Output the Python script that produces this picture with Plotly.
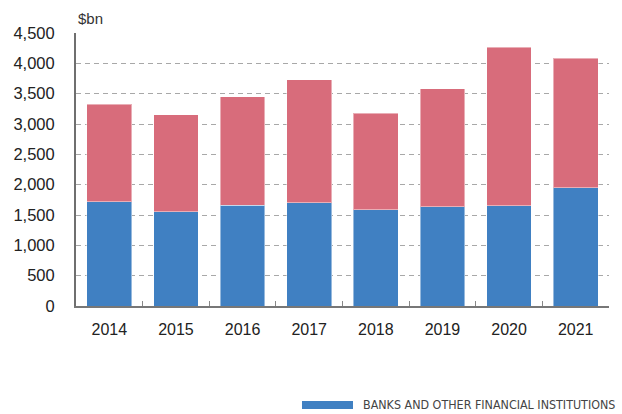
import plotly.graph_objects as go

# ---------------- Data ---------------- #
years = ["2014", "2015", "2016", "2017", "2018", "2019", "2020", "2021"]
totals = [3322, 3153, 3449, 3728, 3180, 3580, 4265, 4084]
banks = [1722, 1551, 1660, 1705, 1590, 1633, 1650, 1952]
others = [t - b for t, b in zip(totals, banks)]

y_ticks = [0, 500, 1000, 1500, 2000, 2500, 3000, 3500, 4000, 4500]

BLUE = "#4080c2"
RED = "#d86c7b"

# ---------------- Figure ---------------- #
fig = go.Figure()
fig.add_trace(go.Bar(
    x=years, y=banks, name="BANKS AND OTHER FINANCIAL INSTITUTIONS",
    marker=dict(color=BLUE, line=dict(color="rgba(255,255,255,0.45)", width=1)),
    width=0.67, showlegend=False,
))
fig.add_trace(go.Bar(
    x=years, y=others, name="OTHER",
    marker=dict(color=RED, line=dict(color="rgba(255,255,255,0.45)", width=1)),
    width=0.67, showlegend=False,
))

font = "Liberation Sans, Arial, sans-serif"

fig.update_layout(
    width=622, height=414,
    barmode="stack",
    margin=dict(l=76, r=13, t=33, b=108, autoexpand=False),
    plot_bgcolor="white", paper_bgcolor="white",
    font=dict(family=font, size=16, color="#222"),
    xaxis=dict(
        range=[-0.5, 7.5],
        showline=True, linecolor="#777", linewidth=2,
        ticks="inside", tickson="boundaries", ticklen=5, tickcolor="#888", tickwidth=1,
        showgrid=False, ticklabelstandoff=8,
    ),
    yaxis=dict(
        range=[0, 4500], tickvals=y_ticks, tickformat=",",
        showline=True, linecolor="#6f6f6f", linewidth=2,
        showgrid=True, gridcolor="#a8a8a8", griddash="5px,4px", gridwidth=1.2,
        zeroline=False, ticks="", ticklabelstandoff=16,
        tickfont=dict(size=16.5),
    ),
    annotations=[
        dict(text="$bn", xref="paper", yref="paper", x=0, y=1.015,
             xanchor="left", yanchor="bottom", showarrow=False,
             font=dict(family=font, size=15, color="#333")),
        dict(text="BANKS AND OTHER FINANCIAL INSTITUTIONS", xref="paper", yref="paper",
             x=0.5347, y=-0.3626, xanchor="left", yanchor="middle", showarrow=False,
             font=dict(family="DejaVu Sans Condensed, Liberation Sans Narrow, sans-serif",
                       size=12.4, color="#444")),
    ],
    shapes=[
        dict(type="rect", xref="paper", yref="paper", x0=0.424, x1=0.5197,
             y0=-0.377, y1=-0.348, fillcolor=BLUE, line=dict(width=0)),
    ],
)

# drop the browser's default 8px body margin so the chart sits at the page origin
fig.write_html("out.html", config={"displayModeBar": False},
               post_script="document.body.style.margin='0';")
